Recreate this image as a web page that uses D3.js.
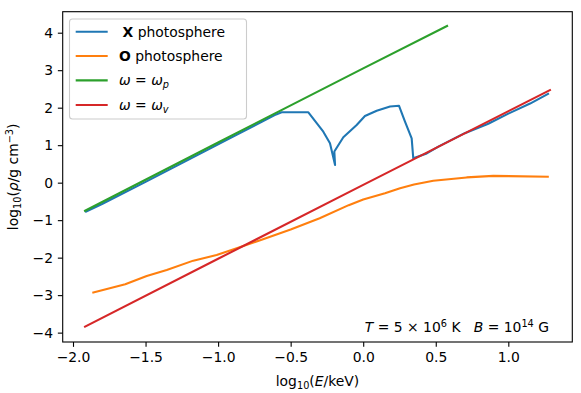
<!DOCTYPE html>
<html><head><meta charset="utf-8">
<script src="https://cdn.jsdelivr.net/npm/d3@7"></script>
<style>
body{margin:0;background:#fff;}
text{font-family:"DejaVu Sans",sans-serif;}
</style></head>
<body><svg id="c" width="581" height="393"></svg>
<script>
// ---- data ----
const xPhotoX = [-1.91,-1.8,-1.5,-1.2,-0.9,-0.6,-0.562,-0.378,-0.275,-0.229,-0.194,-0.199,-0.137,-0.045,0.012,0.093,0.185,0.247,0.288,0.334,0.345,0.438,0.518,0.70,0.862,1.0,1.15,1.274];
const yPhotoX = [-0.77,-0.57,0.02,0.62,1.22,1.82,1.877,1.877,1.36,1.05,0.47,0.83,1.21,1.54,1.78,1.92,2.03,2.05,1.63,1.18,0.65,0.78,0.96,1.32,1.57,1.84,2.11,2.37];
const xPhotoO = [-1.86,-1.64,-1.492,-1.354,-1.171,-1.01,-0.872,-0.7,-0.5,-0.3,-0.1,0.0,0.15,0.254,0.35,0.483,0.713,0.897,1.272];
const yPhotoO = [-2.93,-2.71,-2.49,-2.33,-2.08,-1.93,-1.75,-1.52,-1.25,-0.95,-0.6,-0.45,-0.28,-0.15,-0.05,0.05,0.14,0.18,0.16];
const xOmegaP = [-1.917,-1.0,0.0,0.578];
const yOmegaP = [-0.75,1.07,3.05,4.18];
const xOmegaV = [-1.917,-1.0,0.0,1.287];
const yOmegaV = [-3.84,-2.03,-0.06,2.47];
const xTicks = [-2.0,-1.5,-1.0,-0.5,0.0,0.5,1.0];
const yTicks = [-4,-3,-2,-1,0,1,2,3,4];
const seriesNames = ["X photosphere","O photosphere","ω = ωp","ω = ωv"];
const colors = ["#1f77b4","#ff7f0e","#2ca02c","#d62728"];

const L=62.7,R=572.3,T=11.7,B=342;
const svg=d3.select("#c");
const x=d3.scaleLinear().domain([-2.071,1.441]).range([L,R]);
const y=d3.scaleLinear().domain([-4.25,4.56]).range([B,T]);
const FS=13.9;

const line=d3.line().x(d=>x(d[0])).y(d=>y(d[1]));
const series=[[xPhotoX,yPhotoX],[xPhotoO,yPhotoO],[xOmegaP,yOmegaP],[xOmegaV,yOmegaV]];
series.forEach((s,i)=>{
  const pts=s[0].map((v,j)=>[v,s[1][j]]);
  svg.append("path").attr("d",line(pts)).attr("fill","none")
    .attr("stroke",colors[i]).attr("stroke-width",2.08)
    .attr("stroke-linejoin","round").attr("stroke-linecap","square");
});

// axes
const xa=svg.append("g").attr("transform",`translate(0,${B})`)
  .call(d3.axisBottom(x).tickValues(xTicks).tickFormat(d=>d3.format(".1f")(d).replace("-","−")).tickSizeInner(4.86).tickSizeOuter(0).tickPadding(4.86));
const ya=svg.append("g").attr("transform",`translate(${L},0)`)
  .call(d3.axisLeft(y).tickValues(yTicks).tickFormat(d=>String(d).replace("-","−")).tickSizeInner(4.86).tickSizeOuter(0).tickPadding(4.86));
[xa,ya].forEach(a=>{
  a.select(".domain").remove();
  a.selectAll("line").attr("stroke","#000").attr("stroke-width",1.1);
  a.selectAll("text").attr("font-size",FS).attr("font-family","DejaVu Sans").attr("fill","#000");
});
svg.append("rect").attr("x",L).attr("y",T).attr("width",R-L).attr("height",B-T)
  .attr("fill","none").attr("stroke","#000").attr("stroke-width",1.1);

// axis labels
const xl=svg.append("text").attr("x",(L+R)/2).attr("y",386).attr("text-anchor","middle").attr("font-size",FS);
xl.append("tspan").text("log");
xl.append("tspan").attr("font-size",FS*0.7).attr("dy",3).text("10");
xl.append("tspan").attr("dy",-3).text("(");
xl.append("tspan").attr("font-style","italic").text("E");
xl.append("tspan").text("/keV)");

const yl=svg.append("text").attr("transform",`translate(18,${(T+B)/2}) rotate(-90)`).attr("text-anchor","middle").attr("font-size",FS);
yl.append("tspan").text("log");
yl.append("tspan").attr("font-size",FS*0.7).attr("dy",3).text("10");
yl.append("tspan").attr("dy",-3).text("(");
yl.append("tspan").attr("font-style","italic").text("ρ");
yl.append("tspan").text("/g cm");
yl.append("tspan").attr("font-size",FS*0.7).attr("dy",-5).text("−3");
yl.append("tspan").attr("dy",5).text(")");

// annotation
const an=svg.append("text").attr("x",549).attr("y",332).attr("text-anchor","end").attr("font-size",FS).style("white-space","pre");
an.append("tspan").attr("font-style","italic").text("T");
an.append("tspan").text(" = 5 × 10");
an.append("tspan").attr("font-size",FS*0.7).attr("dy",-5).text("6");
an.append("tspan").attr("dy",5).text(" K\u00a0\u00a0\u00a0");
an.append("tspan").attr("font-style","italic").text("B");
an.append("tspan").text(" = 10");
an.append("tspan").attr("font-size",FS*0.7).attr("dy",-5).text("14");
an.append("tspan").attr("dy",5).text(" G");

// legend
const lg=svg.append("g");
lg.append("rect").attr("x",69.5).attr("y",19).attr("width",177).attr("height",100).attr("rx",3)
  .attr("fill","#fff").attr("fill-opacity",0.8).attr("stroke","#cccccc").attr("stroke-width",1.1);
const rows=[31.7,56,80.4,105];
rows.forEach((ry,i)=>{
  lg.append("line").attr("x1",75.7).attr("x2",107.7).attr("y1",ry).attr("y2",ry)
    .attr("stroke",colors[i]).attr("stroke-width",2.08);
  const t=lg.append("text").attr("x",119).attr("y",ry+5).attr("font-size",FS);
  if(i===0){ t.append("tspan").attr("dx",3.5).attr("font-weight","bold").text("X"); t.append("tspan").text(" photosphere"); }
  else if(i===1){ t.append("tspan").attr("font-weight","bold").text("O"); t.append("tspan").text(" photosphere"); }
  else {
    t.append("tspan").attr("font-style","italic").text("ω");
    t.append("tspan").text(" = ");
    t.append("tspan").attr("font-style","italic").text("ω");
    t.append("tspan").attr("font-style","italic").attr("font-size",FS*0.7).attr("dy",3).text(i===2?"p":"v");
  }
});
</script></body></html>
